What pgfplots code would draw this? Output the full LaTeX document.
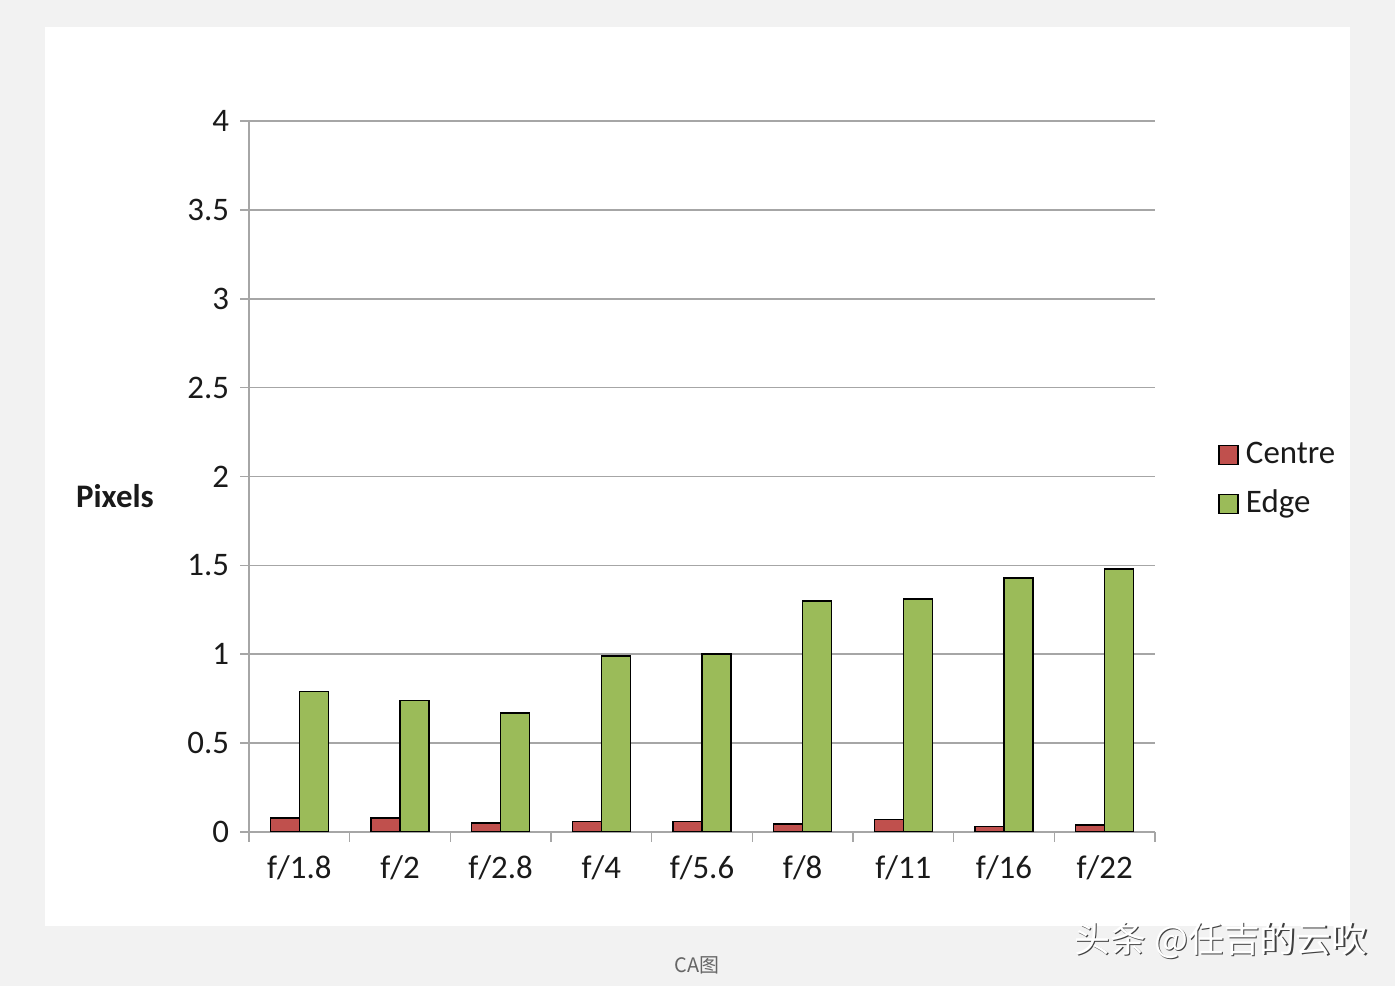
\documentclass[border=0pt]{standalone}
\usepackage{fontspec}
\setmainfont{Carlito}
\newfontfamily\cjk{Noto Sans CJK SC}
\usepackage{pgfplots}
\pgfplotsset{compat=1.18}
\definecolor{bggray}{HTML}{F2F2F2}
\definecolor{cred}{HTML}{C0504D}
\definecolor{cgreen}{HTML}{9BBB59}
\definecolor{gridg}{HTML}{A6A6A6}
\definecolor{txt}{HTML}{1A1A1A}
\begin{document}
\begin{tikzpicture}[x=1bp,y=1bp]
\fill[bggray] (0,0) rectangle (697.5,493);
\fill[white] (22.5,30) rectangle (675,479.5);
\begin{axis}[
  at={(124.5bp,77bp)}, anchor=south west, scale only axis,
  width=453bp, height=355.5bp,
  ybar=0pt, bar width=14.5bp,
  xmin=-0.5, xmax=8.5, ymin=0, ymax=4,
  ytick={0,0.5,1,1.5,2,2.5,3,3.5,4},
  yticklabels={0,0.5,1,1.5,2,2.5,3,3.5,4},
  xtick={0,...,8},
  xticklabels={f/1.8,f/2,f/2.8,f/4,f/5.6,f/8,f/11,f/16,f/22},
  minor xtick={-0.5,0.5,...,8.5},
  tick align=outside,
  major tick length=4.5bp, minor tick length=5bp,
  xtick style={draw=none},
  minor x tick style={draw=gridg, line width=0.8bp},
  ytick style={draw=gridg, line width=0.8bp},
  axis x line*=bottom, axis y line*=left,
  axis line style={draw=gridg, line width=0.8bp, -},
  ymajorgrids, grid style={draw=gridg, line width=0.8bp},
  tick label style={font=\fontsize{16.5}{19}\selectfont, text=txt},
  xticklabel style={yshift=-4bp},
  yticklabel style={xshift=-2bp},
  ylabel={\bfseries Pixels},
  ylabel style={rotate=-90, at={(rel axis cs:-0.148,0.4726)}, anchor=center, font=\fontsize{16.5}{19}\selectfont, text=txt},
  legend style={at={(rel axis cs:1.0629,0.5608)}, anchor=north west, draw=none, fill=none,
    font=\fontsize{16.5}{19}\selectfont, text=txt, row sep=7bp,
    nodes={inner sep=1bp, text height=12bp, text depth=3.5bp}},
  legend cell align=left,
  legend image code/.code={\draw[#1, draw=black, line width=0.8bp] (0bp,-4.75bp) rectangle (9.5bp,4.75bp); \path (12bp,0bp);},
]
\addplot[fill=cred, draw=black, line width=0.8bp] coordinates {
  (0,0.08) (1,0.08) (2,0.05) (3,0.06) (4,0.06) (5,0.045) (6,0.07) (7,0.03) (8,0.04)};
\addplot[fill=cgreen, draw=black, line width=0.8bp] coordinates {
  (0,0.79) (1,0.74) (2,0.67) (3,0.99) (4,1.0) (5,1.30) (6,1.31) (7,1.43) (8,1.48)};
\legend{Centre,Edge}
\end{axis}
\node[text=black!75, font=\cjk\fontsize{18}{20}\selectfont] at (611.2,22.4) {头条 @任吉的云吹};
\node[text=white, font=\cjk\fontsize{18}{20}\selectfont] at (610.5,23) {头条 @任吉的云吹};
\node[text=black!60, font=\cjk\fontsize{10}{12}\selectfont] at (348.5,10.5) {CA图};
\end{tikzpicture}
\end{document}
